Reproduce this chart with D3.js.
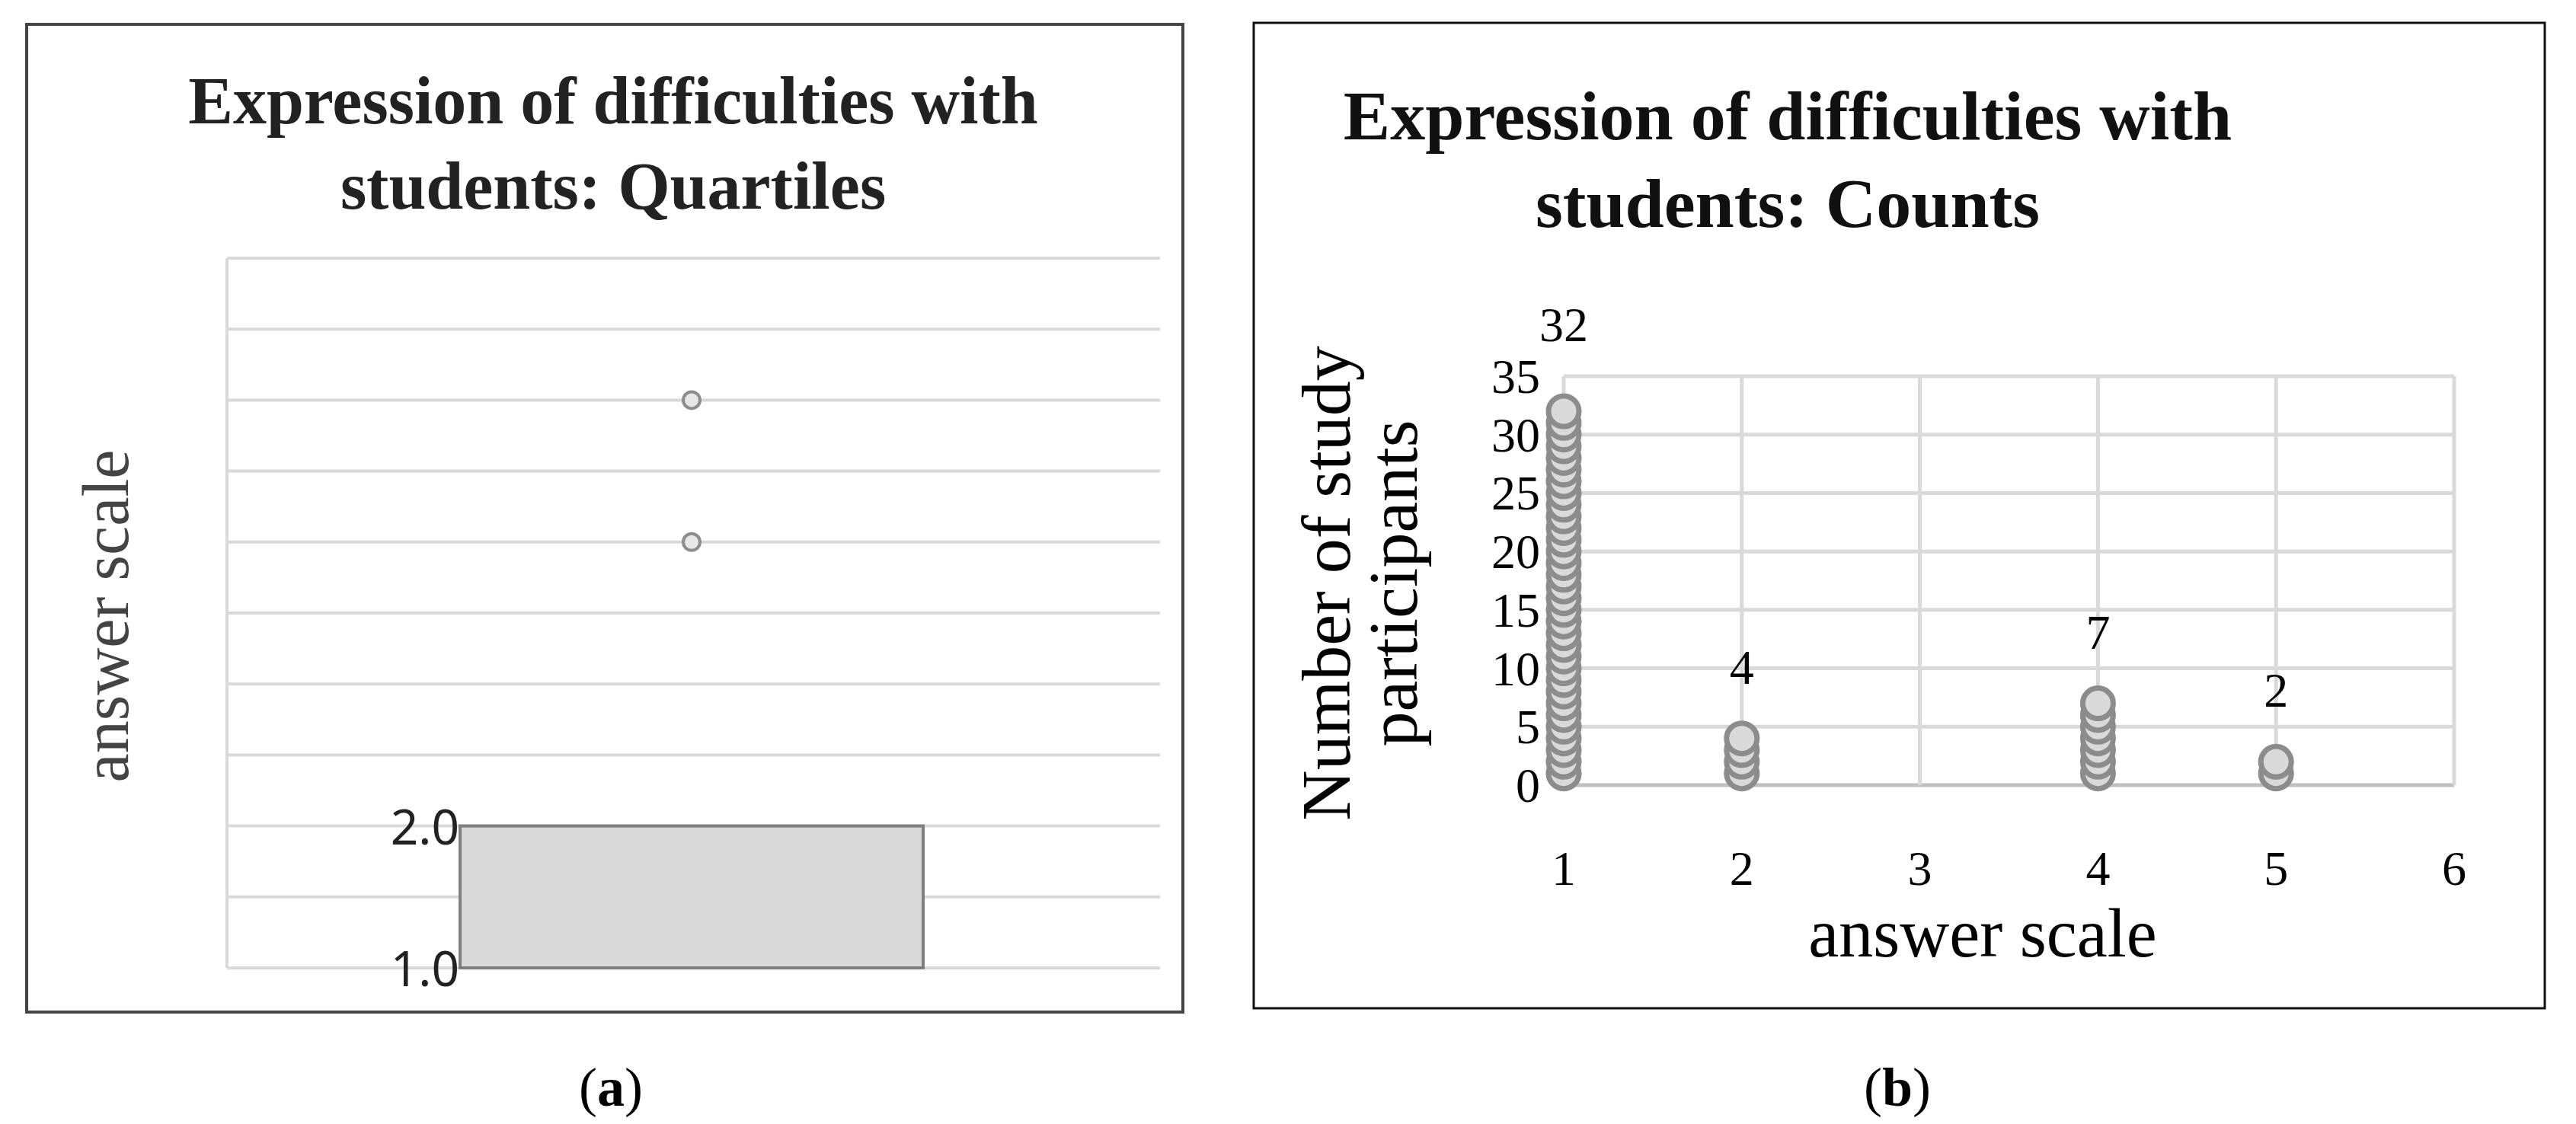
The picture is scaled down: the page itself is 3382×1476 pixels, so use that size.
<!DOCTYPE html>
<html><head><meta charset="utf-8">
<script src="https://cdn.jsdelivr.net/npm/d3@7"></script>
<style>body{margin:0;background:#fff}</style>
</head><body>
<svg id="chart" width="3382" height="1476"></svg>
<script>
"use strict";
// panel (a): box plot of answers
const boxQ1 = 1.0, boxQ3 = 2.0;
const outliers = [4, 5];
const boxTicks = [1.0, 2.0];
// panel (b): counts per answer
const answers = [1, 2, 4, 5];
const counts = [32, 4, 7, 2];
const xTicks = [1, 2, 3, 4, 5, 6];
const yTicks = [0, 5, 10, 15, 20, 25, 30, 35];

const svg = d3.select('#chart');
const serif = "'Liberation Serif', serif";

// ---------- panel a ----------
var a = svg.append('g');
a.append('rect').attr('x', 35).attr('y', 32).attr('width', 1518).attr('height', 1297)
  .attr('fill', 'none').attr('stroke', '#444').attr('stroke-width', 4);
a.selectAll('text.title').data(['Expression of difficulties with', 'students: Quartiles']).enter()
  .append('text').attr('x', 805).attr('y', (d, i) => 162 + i * 112)
  .attr('text-anchor', 'middle').style('font', "bold 88px " + serif).attr('fill', '#222').text(d => d);

var ya = d3.scaleLinear().domain([1, 6]).range([1271, 339]);
var xa0 = 298, xa1 = 1523;
a.selectAll('line.g').data(d3.range(1, 6.01, 0.5)).enter().append('line')
  .attr('x1', xa0).attr('x2', xa1).attr('y1', d => ya(d)).attr('y2', d => ya(d))
  .attr('stroke', '#d9d9d9').attr('stroke-width', 4);
a.append('line').attr('x1', xa0).attr('x2', xa0).attr('y1', ya(6)).attr('y2', ya(1))
  .attr('stroke', '#d9d9d9').attr('stroke-width', 4);
a.append('rect').attr('x', 604).attr('width', 608).attr('y', ya(boxQ3)).attr('height', ya(boxQ1) - ya(boxQ3))
  .attr('fill', '#d9d9d9').attr('stroke', '#7f7f7f').attr('stroke-width', 4);
a.selectAll('circle').data(outliers).enter().append('circle')
  .attr('cx', 908).attr('cy', d => ya(d)).attr('r', 11)
  .attr('fill', '#e6e6e6').attr('stroke', '#8c8c8c').attr('stroke-width', 4);
a.selectAll('text.tick').data(boxTicks).enter().append('text')
  .attr('x', 603).attr('y', d => ya(d) + 24).attr('text-anchor', 'end')
  .style('font', "64px 'Noto Sans', sans-serif").attr('fill', '#222').text(d => d.toFixed(1));
a.append('text').attr('transform', 'translate(168,809) rotate(-90)').attr('text-anchor', 'middle')
  .style('font', "86px " + serif).attr('fill', '#444').text('answer scale');
a.append('text').attr('x', 802).attr('y', 1452).attr('text-anchor', 'middle')
  .style('font', "72px " + serif).html('(<tspan font-weight="bold">a</tspan>)');

// ---------- panel b ----------
var b = svg.append('g');
b.append('rect').attr('x', 1646).attr('y', 30).attr('width', 1695).attr('height', 1294)
  .attr('fill', 'none').attr('stroke', '#111').attr('stroke-width', 3);
b.selectAll('text.title').data(['Expression of difficulties with', 'students: Counts']).enter()
  .append('text').attr('x', 2347).attr('y', (d, i) => 183 + i * 115)
  .attr('text-anchor', 'middle').style('font', "bold 92px " + serif).attr('fill', '#111').text(d => d);

var xb = d3.scaleLinear().domain([1, 6]).range([2053, 3222]);
var yb = d3.scaleLinear().domain([0, 35]).range([1031, 494]);
b.selectAll('line.h').data(yTicks).enter().append('line')
  .attr('x1', xb(1)).attr('x2', xb(6)).attr('y1', d => yb(d)).attr('y2', d => yb(d))
  .attr('stroke', d => d === 0 ? '#bfbfbf' : '#d9d9d9').attr('stroke-width', 5);
b.selectAll('line.v').data(xTicks).enter().append('line')
  .attr('x1', d => xb(d)).attr('x2', d => xb(d)).attr('y1', yb(35)).attr('y2', yb(0))
  .attr('stroke', '#d9d9d9').attr('stroke-width', 5);
b.selectAll('text.yt').data(yTicks).enter().append('text')
  .attr('x', 2022).attr('y', d => yb(d) + 22).attr('text-anchor', 'end')
  .style('font', "64px " + serif).text(d => d);
b.selectAll('text.xt').data(xTicks).enter().append('text')
  .attr('x', d => xb(d)).attr('y', 1162).attr('text-anchor', 'middle')
  .style('font', "64px " + serif).text(d => d);

var dots = [];
answers.forEach((v, i) => { for (var k = 1; k <= counts[i]; k++) dots.push([v, k]); });
b.selectAll('circle').data(dots).enter().append('circle')
  .attr('cx', d => xb(d[0])).attr('cy', d => yb(d[1])).attr('r', 20)
  .attr('fill', '#d9d9d9').attr('stroke', '#8c8c8c').attr('stroke-width', 7);
b.selectAll('text.lab').data(answers).enter().append('text')
  .attr('x', d => xb(d)).attr('y', (d, i) => yb(counts[i]) - (counts[i] > 20 ? 92 : 72))
  .attr('text-anchor', 'middle').style('font', "64px " + serif).text((d, i) => counts[i]);

b.append('text').attr('x', 2603).attr('y', 1256).attr('text-anchor', 'middle')
  .style('font', "90px " + serif).text('answer scale');
b.selectAll('text.yl').data(['Number of study', 'participants']).enter().append('text')
  .attr('transform', (d, i) => 'translate(' + (1772 + i * 88) + ',766) rotate(-90)')
  .attr('text-anchor', 'middle').style('font', "92px " + serif).text(d => d);
b.append('text').attr('x', 2491).attr('y', 1452).attr('text-anchor', 'middle')
  .style('font', "72px " + serif).html('(<tspan font-weight="bold">b</tspan>)');
</script>
</body></html>
